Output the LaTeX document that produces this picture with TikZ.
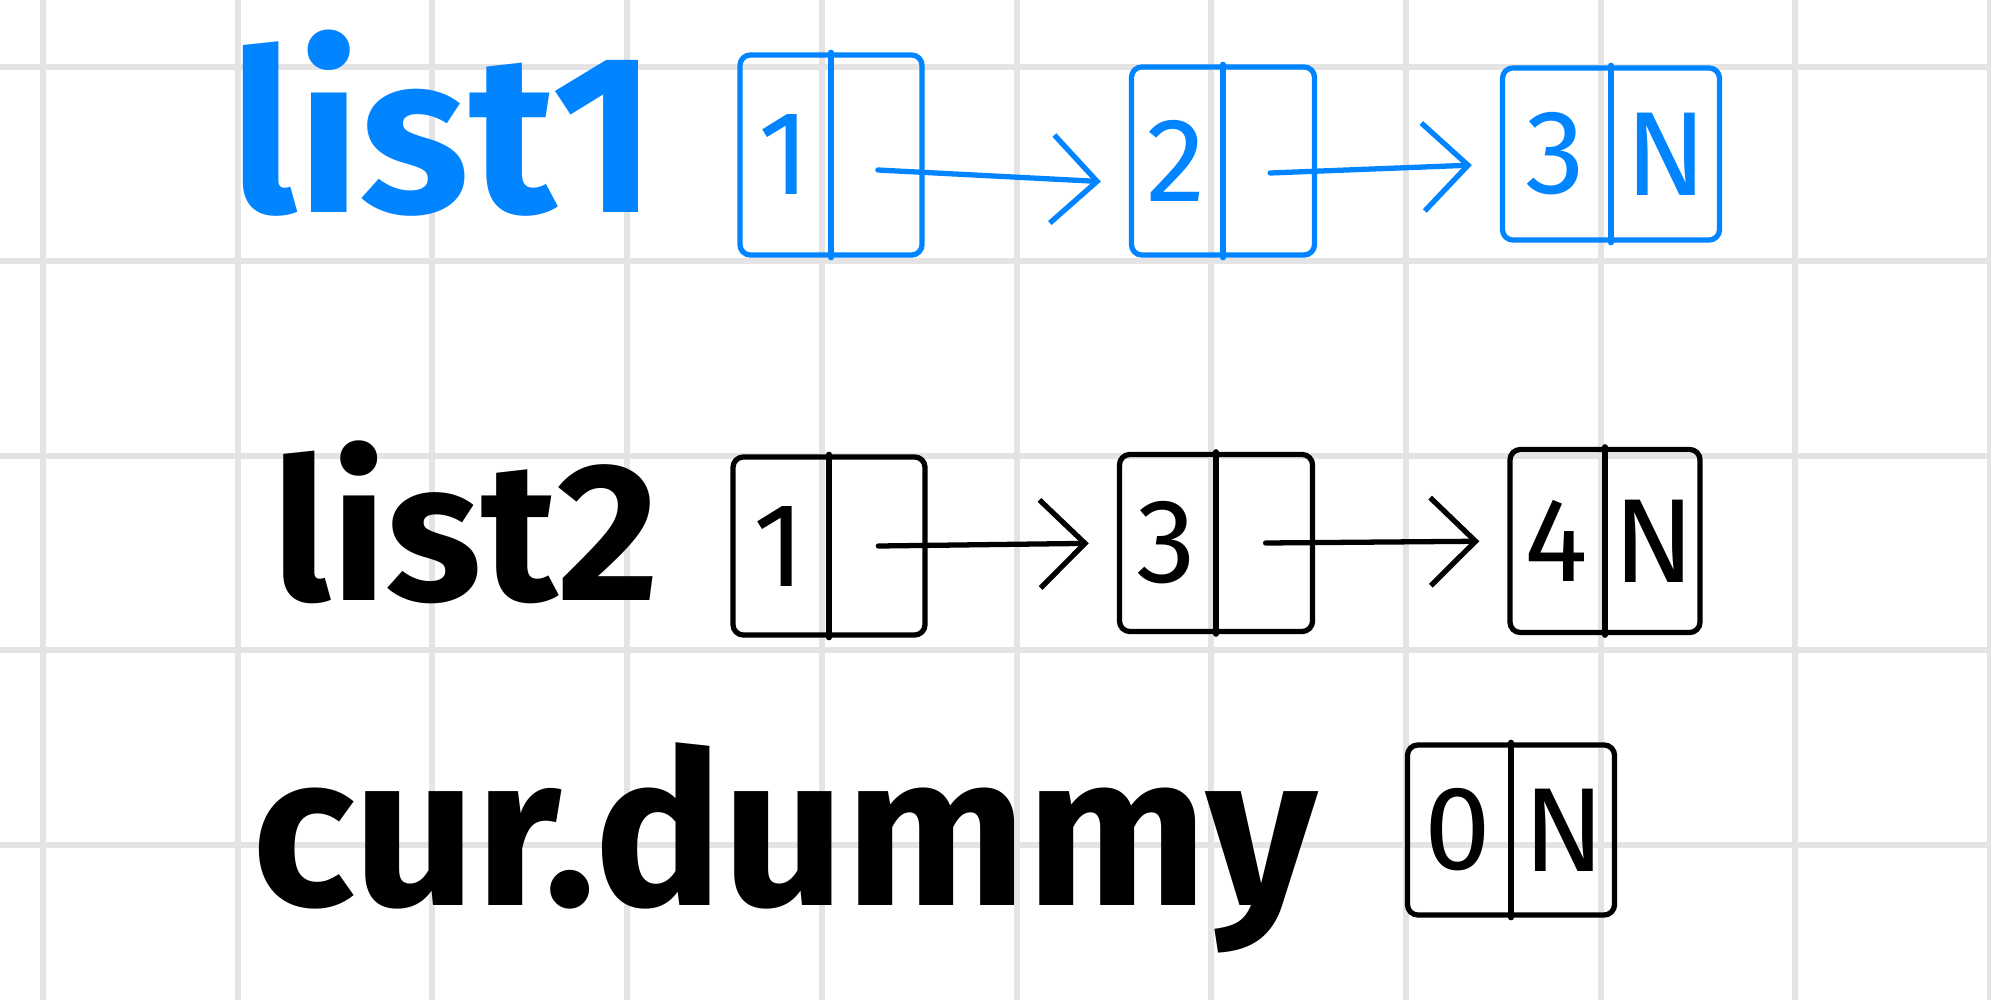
\documentclass[tikz,border=0pt]{standalone}
\usepackage{fontspec}
\setmainfont{Fira Sans}
\usetikzlibrary{arrows.meta, calc}
\definecolor{inkblue}{RGB}{0, 132, 255}
\definecolor{gridgray}{RGB}{228, 228, 228}

\begin{document}
\begin{tikzpicture}[
  x=0.01cm, y=-0.01cm,
  line width=1.5pt, line cap=round, line join=round,
  cell/.style={draw, rounded corners=3pt, inner sep=0pt},
  val/.style={font=\fontsize{34}{38}\selectfont, inner sep=0pt},
  title/.style={font=\bfseries\fontsize{64}{70}\selectfont, inner sep=0pt, anchor=base west},
  ptr/.style={-{Straight Barb[length=0.45cm, width=0.88cm]}, shorten >=0.28cm}
]
  % paper
  \useasboundingbox (0,0) rectangle (1991,1000);
  \fill[white] (0,0) rectangle (1991,1000);
  \foreach \gx in {0,...,10}
    \draw[gridgray, line width=0.06cm, line cap=butt] (43+194.7*\gx, 0) -- ++(0,1000);
  \foreach \gy in {0,...,4}
    \draw[gridgray, line width=0.06cm, line cap=butt] (0, 67+194.4*\gy) -- ++(1991,0);

  % list1
  \begin{scope}[color=inkblue]
    \node[title] (l1) at (228,212) {list1};
    \node[cell, minimum width=1.82cm, minimum height=2.00cm] (a1) at (831,155) {};
    \node[cell, minimum width=1.83cm, minimum height=1.88cm] (a2) at (1223,161) {};
    \node[cell, minimum width=2.17cm, minimum height=1.72cm] (a3) at (1611,154) {};
    \foreach \n in {a1,a2,a3}
      \draw (\n.north) -- (\n.south);
    \node[val] at ($(a1.west)!0.25!(a1.east)$) {1};
    \node[val] at ($(a2.west)!0.25!(a2.east)$) {2};
    \node[val] at ($(a3.west)!0.25!(a3.east)$) {3};
    \node[val] at ($(a3.west)!0.75!(a3.east)$) {N};
    \draw[ptr] ($(a1.west)!0.75!(a1.east)+(0,15)$) -- ([yshift=-0.22cm]a2.west);
    \draw[ptr] ($(a2.west)!0.75!(a2.east)+(0,12)$) -- ([yshift=-0.1cm]a3.west);
  \end{scope}

  % list2
  \node[title, font=\bfseries\fontsize{56}{62}\selectfont] (l2) at (270,600) {list2};
  \node[cell, minimum width=1.92cm, minimum height=1.78cm] (b1) at (829,546) {};
  \node[cell, minimum width=1.93cm, minimum height=1.77cm] (b2) at (1216,543) {};
  \node[cell, minimum width=1.90cm, minimum height=1.83cm] (b3) at (1605,541) {};
  \foreach \n in {b1,b2,b3}
    \draw (\n.north) -- (\n.south);
  \node[val] at ($(b1.west)!0.25!(b1.east)$) {1};
  \node[val] at ($(b2.west)!0.25!(b2.east)$) {3};
  \node[val] at ($(b3.west)!0.25!(b3.east)$) {4};
  \node[val] at ($(b3.west)!0.75!(b3.east)$) {N};
  \draw[ptr] ($(b1.west)!0.75!(b1.east)$) -- (b2.west);
  \draw[ptr] ($(b2.west)!0.75!(b2.east)$) -- (b3.west);

  % cur.dummy
  \node[title, font=\bfseries\fontsize{61}{66}\selectfont] (l3) at (250,905) {cur.dummy};
  \node[cell, minimum width=2.07cm, minimum height=1.70cm] (c1) at (1511,830) {};
  \draw (c1.north) -- (c1.south);
  \node[val] at ($(c1.west)!0.25!(c1.east)$) {0};
  \node[val] at ($(c1.west)!0.75!(c1.east)$) {N};
\end{tikzpicture}
\end{document}
